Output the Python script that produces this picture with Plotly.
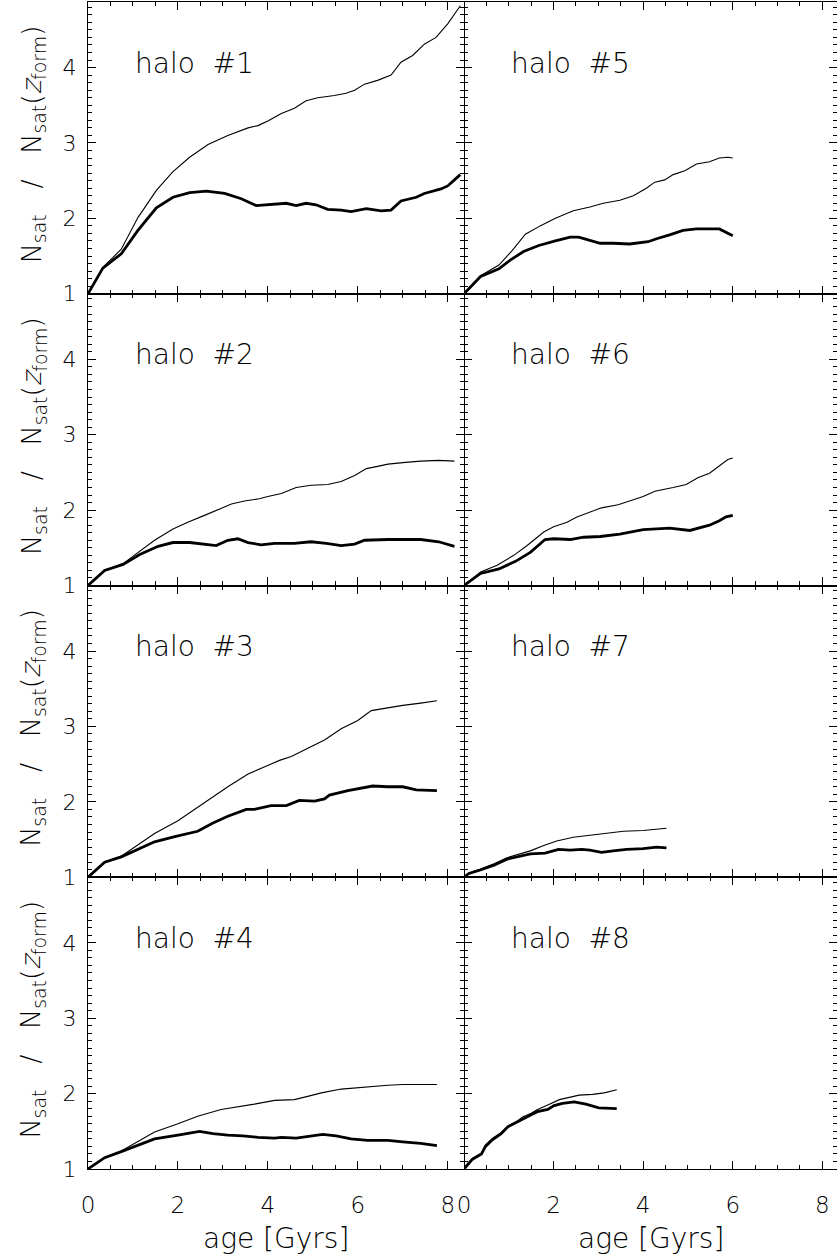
import plotly.graph_objects as go

# ---------------- data ----------------
h1_thin_age = [0, 0.33, 0.74, 1.11, 1.52, 1.89, 2.26, 2.67, 3.11, 3.56, 3.78, 4.0, 4.30, 4.59, 4.85, 5.11, 5.48, 5.74, 5.93, 6.15, 6.44, 6.74, 6.96, 7.22, 7.48, 7.74, 8.0, 8.28]
h1_thin = [1.0, 1.35, 1.59, 2.01, 2.37, 2.62, 2.81, 2.98, 3.10, 3.20, 3.23, 3.29, 3.39, 3.46, 3.56, 3.60, 3.63, 3.66, 3.70, 3.78, 3.83, 3.90, 4.07, 4.16, 4.31, 4.40, 4.58, 4.82]
h1_thick_age = [0, 0.33, 0.74, 1.11, 1.52, 1.89, 2.26, 2.63, 3.04, 3.41, 3.74, 4.07, 4.41, 4.63, 4.85, 5.07, 5.33, 5.63, 5.85, 6.19, 6.52, 6.74, 6.96, 7.30, 7.48, 7.85, 8.0, 8.15, 8.28]
h1_thick = [1.0, 1.34, 1.53, 1.84, 2.14, 2.28, 2.34, 2.36, 2.33, 2.26, 2.17, 2.18, 2.20, 2.17, 2.20, 2.18, 2.12, 2.11, 2.09, 2.13, 2.10, 2.11, 2.23, 2.28, 2.33, 2.39, 2.43, 2.51, 2.58]

h2_thin_age = [0, 0.37, 0.78, 1.11, 1.48, 1.89, 2.22, 2.59, 2.93, 3.19, 3.48, 3.81, 4.0, 4.30, 4.63, 4.96, 5.33, 5.63, 5.93, 6.19, 6.44, 6.67, 7.0, 7.4, 7.8, 8.15]
h2_thin = [1.0, 1.20, 1.29, 1.44, 1.60, 1.75, 1.84, 1.93, 2.02, 2.08, 2.12, 2.15, 2.18, 2.22, 2.30, 2.33, 2.34, 2.38, 2.46, 2.55, 2.58, 2.61, 2.63, 2.65, 2.66, 2.65]
h2_thick_age = [0, 0.37, 0.78, 1.15, 1.56, 1.89, 2.26, 2.56, 2.85, 3.11, 3.33, 3.56, 3.85, 4.15, 4.59, 4.96, 5.30, 5.63, 5.93, 6.15, 6.44, 6.67, 7.0, 7.4, 7.8, 8.15]
h2_thick = [1.0, 1.20, 1.28, 1.41, 1.52, 1.57, 1.57, 1.55, 1.53, 1.60, 1.62, 1.57, 1.54, 1.56, 1.56, 1.58, 1.56, 1.53, 1.55, 1.60, 1.61, 1.61, 1.61, 1.61, 1.58, 1.52]

h3_thin_age = [0, 0.37, 0.74, 1.48, 2.0, 2.59, 3.11, 3.56, 3.93, 4.26, 4.52, 4.89, 5.26, 5.63, 6.0, 6.30, 6.67, 7.0, 7.4, 7.76]
h3_thin = [1.0, 1.20, 1.28, 1.58, 1.75, 1.99, 2.20, 2.37, 2.46, 2.55, 2.60, 2.71, 2.82, 2.97, 3.08, 3.21, 3.25, 3.28, 3.31, 3.34]
h3_thick_age = [0, 0.37, 0.74, 1.11, 1.48, 1.93, 2.44, 2.78, 3.11, 3.52, 3.70, 4.07, 4.41, 4.70, 5.04, 5.26, 5.37, 5.78, 6.07, 6.33, 6.67, 7.0, 7.3, 7.76]
h3_thick = [1.0, 1.20, 1.27, 1.37, 1.47, 1.54, 1.61, 1.72, 1.81, 1.90, 1.90, 1.95, 1.95, 2.02, 2.01, 2.04, 2.09, 2.15, 2.18, 2.21, 2.20, 2.20, 2.16, 2.15]

h4_thin_age = [0, 0.37, 0.74, 1.11, 1.48, 2.0, 2.44, 2.96, 3.41, 3.70, 4.15, 4.59, 4.93, 5.19, 5.63, 6.0, 6.67, 7.0, 7.4, 7.76]
h4_thin = [1.0, 1.15, 1.24, 1.36, 1.49, 1.60, 1.70, 1.79, 1.83, 1.86, 1.91, 1.92, 1.97, 2.01, 2.06, 2.08, 2.11, 2.12, 2.12, 2.12]
h4_thick_age = [0, 0.37, 0.74, 1.11, 1.48, 2.0, 2.48, 2.78, 3.11, 3.44, 3.78, 4.15, 4.30, 4.63, 4.93, 5.22, 5.52, 5.85, 6.22, 6.67, 7.0, 7.4, 7.76]
h4_thick = [1.0, 1.15, 1.23, 1.32, 1.40, 1.45, 1.50, 1.47, 1.45, 1.44, 1.42, 1.41, 1.42, 1.41, 1.44, 1.46, 1.44, 1.40, 1.38, 1.38, 1.36, 1.34, 1.31]

h5_thin_age = [0, 0.37, 0.78, 1.07, 1.37, 1.70, 2.04, 2.44, 2.81, 3.11, 3.48, 3.78, 4.07, 4.26, 4.48, 4.67, 4.93, 5.19, 5.48, 5.70, 5.89, 6.0]
h5_thin = [1.0, 1.24, 1.38, 1.57, 1.79, 1.90, 2.00, 2.10, 2.15, 2.20, 2.24, 2.30, 2.40, 2.48, 2.51, 2.58, 2.63, 2.72, 2.75, 2.80, 2.81, 2.80]
h5_thick_age = [0, 0.37, 0.78, 1.04, 1.33, 1.67, 2.04, 2.37, 2.56, 3.04, 3.33, 3.70, 4.11, 4.30, 4.59, 4.89, 5.19, 5.70, 6.0]
h5_thick = [1.0, 1.23, 1.33, 1.45, 1.56, 1.64, 1.70, 1.75, 1.75, 1.67, 1.67, 1.66, 1.69, 1.73, 1.78, 1.84, 1.86, 1.86, 1.77]

h6_thin_age = [0, 0.37, 0.74, 1.11, 1.41, 1.78, 2.0, 2.30, 2.52, 2.81, 3.07, 3.44, 3.78, 4.0, 4.26, 4.44, 4.67, 4.96, 5.22, 5.48, 5.70, 5.89, 6.0]
h6_thin = [1.0, 1.18, 1.27, 1.40, 1.53, 1.71, 1.78, 1.84, 1.91, 1.97, 2.03, 2.07, 2.14, 2.18, 2.25, 2.27, 2.30, 2.34, 2.43, 2.49, 2.59, 2.67, 2.69]
h6_thick_age = [0, 0.37, 0.78, 1.15, 1.48, 1.81, 2.0, 2.37, 2.67, 3.04, 3.48, 3.78, 4.0, 4.30, 4.59, 5.04, 5.26, 5.48, 5.70, 5.85, 6.0]
h6_thick = [1.0, 1.16, 1.22, 1.32, 1.44, 1.61, 1.62, 1.61, 1.64, 1.65, 1.68, 1.71, 1.74, 1.75, 1.76, 1.73, 1.77, 1.80, 1.86, 1.91, 1.93]

h7_thin_age = [0, 0.11, 0.33, 0.67, 0.96, 1.26, 1.48, 1.78, 2.07, 2.44, 2.74, 3.04, 3.26, 3.56, 4.0, 4.30, 4.52]
h7_thin = [1.0, 1.05, 1.10, 1.18, 1.26, 1.31, 1.35, 1.42, 1.48, 1.53, 1.55, 1.57, 1.59, 1.61, 1.62, 1.64, 1.65]
h7_thick_age = [0, 0.11, 0.33, 0.67, 0.96, 1.26, 1.48, 1.81, 2.11, 2.37, 2.63, 2.81, 3.07, 3.33, 3.63, 4.0, 4.30, 4.52]
h7_thick = [1.0, 1.05, 1.09, 1.16, 1.24, 1.28, 1.31, 1.32, 1.37, 1.36, 1.37, 1.36, 1.33, 1.35, 1.37, 1.38, 1.40, 1.39]

h8_thin_age = [0, 0.05, 0.19, 0.39, 0.48, 0.64, 0.83, 0.98, 1.20, 1.31, 1.50, 1.64, 1.87, 2.01, 2.13, 2.35, 2.57, 2.87, 3.13, 3.41]
h8_thin = [1.0, 1.05, 1.14, 1.21, 1.32, 1.41, 1.48, 1.57, 1.64, 1.69, 1.74, 1.79, 1.85, 1.89, 1.92, 1.95, 1.98, 1.99, 2.01, 2.05]
h8_thick_age = [0, 0.19, 0.39, 0.48, 0.64, 0.83, 0.98, 1.20, 1.31, 1.50, 1.64, 1.87, 2.01, 2.20, 2.46, 2.72, 3.01, 3.41]
h8_thick = [1.0, 1.13, 1.20, 1.30, 1.39, 1.47, 1.56, 1.63, 1.67, 1.72, 1.76, 1.79, 1.84, 1.87, 1.89, 1.86, 1.81, 1.80]

halo_labels = ["halo&nbsp;&nbsp;#1", "halo&nbsp;&nbsp;#2", "halo&nbsp;&nbsp;#3", "halo&nbsp;&nbsp;#4",
               "halo&nbsp;&nbsp;#5", "halo&nbsp;&nbsp;#6", "halo&nbsp;&nbsp;#7", "halo&nbsp;&nbsp;#8"]
x_title = "age [Gyrs]"
y_title = "N<sub>sat</sub>&nbsp;&nbsp;&nbsp;/&nbsp;&nbsp;&nbsp;N<sub>sat</sub>(<i>z</i><sub>form</sub>)"

panels = [
    (h1_thin_age, h1_thin, h1_thick_age, h1_thick),
    (h2_thin_age, h2_thin, h2_thick_age, h2_thick),
    (h3_thin_age, h3_thin, h3_thick_age, h3_thick),
    (h4_thin_age, h4_thin, h4_thick_age, h4_thick),
    (h5_thin_age, h5_thin, h5_thick_age, h5_thick),
    (h6_thin_age, h6_thin, h6_thick_age, h6_thick),
    (h7_thin_age, h7_thin, h7_thick_age, h7_thick),
    (h8_thin_age, h8_thin, h8_thick_age, h8_thick),
]

# ---------------- layout geometry ----------------
W, H = 837, 1256
ML, MR, MT, MB = 88, 0, 2, 87
PW, PH = W - ML - MR, H - MT - MB
split = (464 - ML) / PW
XRANGE_L = [0, (464 - 87.7) / 45.0]
XRANGE_R = [0, (839 - 464.3) / 45.0]
YRANGE = [1, 1 + (PH / 4) / 75.4]

FONT = "DejaVu Sans ExtraLight, DejaVu Sans Light, DejaVu Sans"
TXT = "#000000"
fig = go.Figure()
layout = dict(
    width=W, height=H,
    margin=dict(l=ML, r=MR, t=MT, b=MB),
    plot_bgcolor="white", paper_bgcolor="white",
    showlegend=False,
    font=dict(family=FONT, color=TXT, weight=200),
)

annotations = []
for i, (ta, tv, ka, kv) in enumerate(panels):
    col = 0 if i < 4 else 1
    row = i % 4
    n = i + 1
    xa = "x" if n == 1 else f"x{n}"
    ya = "y" if n == 1 else f"y{n}"
    fig.add_trace(go.Scatter(x=ta, y=tv, mode="lines", line=dict(color="black", width=1.1),
                             xaxis=xa, yaxis=ya, hoverinfo="skip"))
    fig.add_trace(go.Scatter(x=ka, y=kv, mode="lines", line=dict(color="black", width=2.8),
                             xaxis=xa, yaxis=ya, hoverinfo="skip"))
    xd = [0, split] if col == 0 else [split, 1]
    y0 = 1 - (row + 1) / 4
    yd = [y0, y0 + 0.25]
    bottom = row == 3
    layout["xaxis" if n == 1 else f"xaxis{n}"] = dict(
        domain=xd, anchor=ya, range=XRANGE_L if col == 0 else XRANGE_R,
        showgrid=False, zeroline=False, showline=True, linecolor="black", linewidth=1.4,
        mirror="ticks", ticks="inside", ticklen=8, tickwidth=1.3, tickcolor="black",
        tickmode="linear", tick0=0, dtick=2, showticklabels=bottom,
        tickfont=dict(family=FONT, size=23, color=TXT, weight=200),
        ticklabelstandoff=15,
        minor=dict(tickmode="linear", tick0=0, dtick=0.5, ticks="inside", ticklen=4,
                   tickwidth=1, tickcolor="black"),
    )
    layout["yaxis" if n == 1 else f"yaxis{n}"] = dict(
        domain=yd, anchor=xa, range=YRANGE,
        showgrid=False, zeroline=False, showline=(col == 0), linecolor="black", linewidth=1.4,
        mirror="ticks", ticks="inside", ticklen=8, tickwidth=1.3, tickcolor="black",
        tickmode="linear", tick0=0, dtick=1, showticklabels=(col == 0),
        tickfont=dict(family=FONT, size=22, color=TXT, weight=200),
        ticklabelstandoff=6,
        minor=dict(tickmode="linear", tick0=0, dtick=0.1, ticks="inside", ticklen=4,
                   tickwidth=1, tickcolor="black"),
    )
    annotations.append(dict(
        x=1.0, y=4.06, xref=xa, yref=ya, text=halo_labels[i], showarrow=False,
        xanchor="left", yanchor="middle",
        font=dict(family=FONT, size=28, color=TXT, weight=200),
    ))
    if col == 0:
        annotations.append(dict(
            x=(33 - ML) / PW, y=yd[0] + 0.125 + 0.003, xref="paper", yref="paper",
            text=y_title, textangle=-90, showarrow=False,
            xanchor="center", yanchor="middle",
            font=dict(family=FONT, size=27, color=TXT, weight=200),
        ))
    if bottom:
        annotations.append(dict(
            x=(xd[0] + xd[1]) / 2, y=-(1238 - (H - MB)) / PH, xref="paper", yref="paper",
            text=x_title, showarrow=False, xanchor="center", yanchor="middle",
            font=dict(family=FONT, size=28, color=TXT, weight=200),
        ))

layout["annotations"] = annotations
fig.update_layout(**layout)
fig.write_html("out.html")
